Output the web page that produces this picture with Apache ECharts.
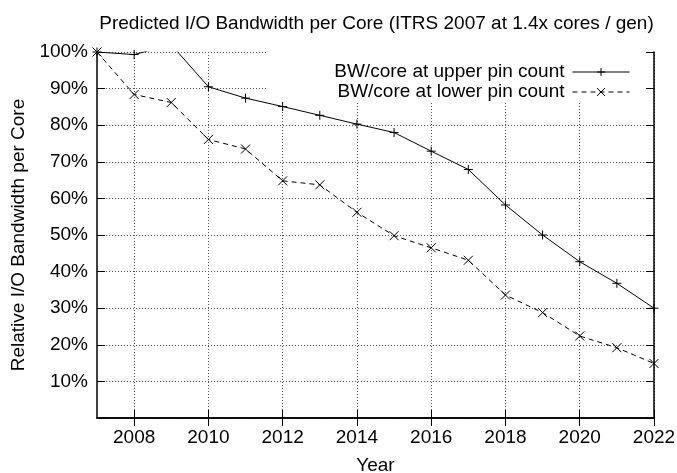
<!DOCTYPE html>
<html>
<head>
<meta charset="utf-8">
<script src="https://cdn.jsdelivr.net/npm/echarts@6/dist/echarts.min.js"></script>
<style>
html,body{margin:0;padding:0;background:#fff;}
#c{width:677px;height:473px;}
</style>
</head>
<body>
<div id="c"></div>
<script>
var years = ['2007','2008','2009','2010','2011','2012','2013','2014','2015','2016','2017','2018','2019','2020','2021','2022'];
var upperPin = [100, 99.3, 102, 90.5, 87.4, 85.1, 82.7, 80.3, 78.0, 72.9, 67.9, 58.2, 50.0, 42.7, 36.8, 30.0];
var lowerPin = [100, 88.4, 86.2, 76.1, 73.5, 64.8, 63.7, 56.2, 49.8, 46.5, 43.1, 33.6, 28.8, 22.4, 19.2, 14.9];
var yTicks = [10, 20, 30, 40, 50, 60, 70, 80, 90, 100];
var seriesNames = ['BW/core at upper pin count', 'BW/core at lower pin count'];

var FONT = 'Liberation Sans';
var FS = 19;
var evenYear = function (idx, val) { return Number(val) % 2 === 0; };
var plusPath = 'path://M0,5L10,5M5,0L5,10';
var crossPath = 'path://M0,0L10,10M10,0L0,10';

var chart = echarts.init(document.getElementById('c'), null, {renderer: 'canvas'});
chart.setOption({
  animation: false,
  backgroundColor: '#fff',
  textStyle: {fontFamily: FONT},
  title: {
    text: 'Predicted I/O Bandwidth per Core (ITRS 2007 at 1.4x cores / gen)',
    left: 371.5, top: 9, textAlign: 'center',
    textStyle: {fontFamily: FONT, fontSize: FS, fontWeight: 'normal', color: '#000'}
  },
  grid: {left: 97, right: 23, top: 52, bottom: 55, containLabel: false, outerBoundsMode: 'none'},
  legend: {
    orient: 'vertical', right: 23, top: 52, align: 'right',
    padding: [10, 24, 0, 68], itemGap: 0, itemWidth: 57, itemHeight: 10,
    backgroundColor: '#fff',
    textStyle: {fontFamily: FONT, fontSize: FS, color: '#000', lineHeight: 20, padding: [0, 3, 0, 0]},
    itemStyle: {color: '#000', borderColor: '#000', borderWidth: 1},
    lineStyle: {color: '#000', width: 1, type: 'inherit'},
    data: seriesNames
  },
  xAxis: [{
    type: 'category', data: years, boundaryGap: false, position: 'bottom',
    name: 'Year', nameLocation: 'middle', nameGap: 38,
    nameTextStyle: {fontFamily: FONT, fontSize: FS, color: '#000'},
    axisLine: {show: true, lineStyle: {color: '#000', width: 1.5}},
    axisTick: {show: true, inside: true, length: 8, interval: evenYear, lineStyle: {color: '#000', width: 1}},
    axisLabel: {show: true, interval: evenYear, margin: 10, fontFamily: FONT, fontSize: FS, color: '#000'},
    splitLine: {show: true, interval: evenYear, lineStyle: {color: '#555', width: 1, type: [1, 2]}}
  }, {
    type: 'category', data: years, boundaryGap: false, position: 'top', z: 5,
    axisLine: {show: true, lineStyle: {color: '#000', width: 1.5}},
    axisTick: {show: true, inside: true, length: 8, interval: evenYear, lineStyle: {color: '#000', width: 1}},
    axisLabel: {show: false},
    splitLine: {show: false}
  }],
  yAxis: [{
    type: 'value', min: 0, max: 100, interval: 10, position: 'left',
    name: 'Relative I/O Bandwidth per Core', nameLocation: 'middle', nameGap: 60,
    nameTextStyle: {fontFamily: FONT, fontSize: FS, color: '#000'},
    axisLine: {show: true, lineStyle: {color: '#000', width: 1.5}},
    axisTick: {show: true, inside: true, length: 8, lineStyle: {color: '#000', width: 1}},
    axisLabel: {show: true, margin: 9, fontFamily: FONT, fontSize: FS, color: '#000',
      formatter: function (v) { return yTicks.indexOf(v) >= 0 ? v + '%' : ''; }},
    splitLine: {show: true, lineStyle: {color: '#555', width: 1, type: [1, 2]}}
  }, {
    type: 'value', min: 0, max: 100, interval: 10, position: 'right', z: 5,
    axisLine: {show: true, lineStyle: {color: '#000', width: 1.5}},
    axisTick: {show: true, inside: true, length: 8, lineStyle: {color: '#000', width: 1}},
    axisLabel: {show: false},
    splitLine: {show: false}
  }],
  series: [{
    name: seriesNames[0], type: 'line', data: upperPin, xAxisIndex: 0, yAxisIndex: 0,
    clip: true, symbol: plusPath, symbolSize: 9, showAllSymbol: true,
    lineStyle: {color: '#000', width: 1, type: 'solid'},
    itemStyle: {color: '#000', borderColor: '#000', borderWidth: 1},
    z: 3
  }, {
    name: seriesNames[1], type: 'line', data: lowerPin, xAxisIndex: 0, yAxisIndex: 0,
    clip: true, symbol: crossPath, symbolSize: 9, showAllSymbol: true,
    lineStyle: {color: '#000', width: 1, type: [5, 4]},
    itemStyle: {color: '#000', borderColor: '#000', borderWidth: 1},
    z: 3
  }]
});
</script>
</body>
</html>
